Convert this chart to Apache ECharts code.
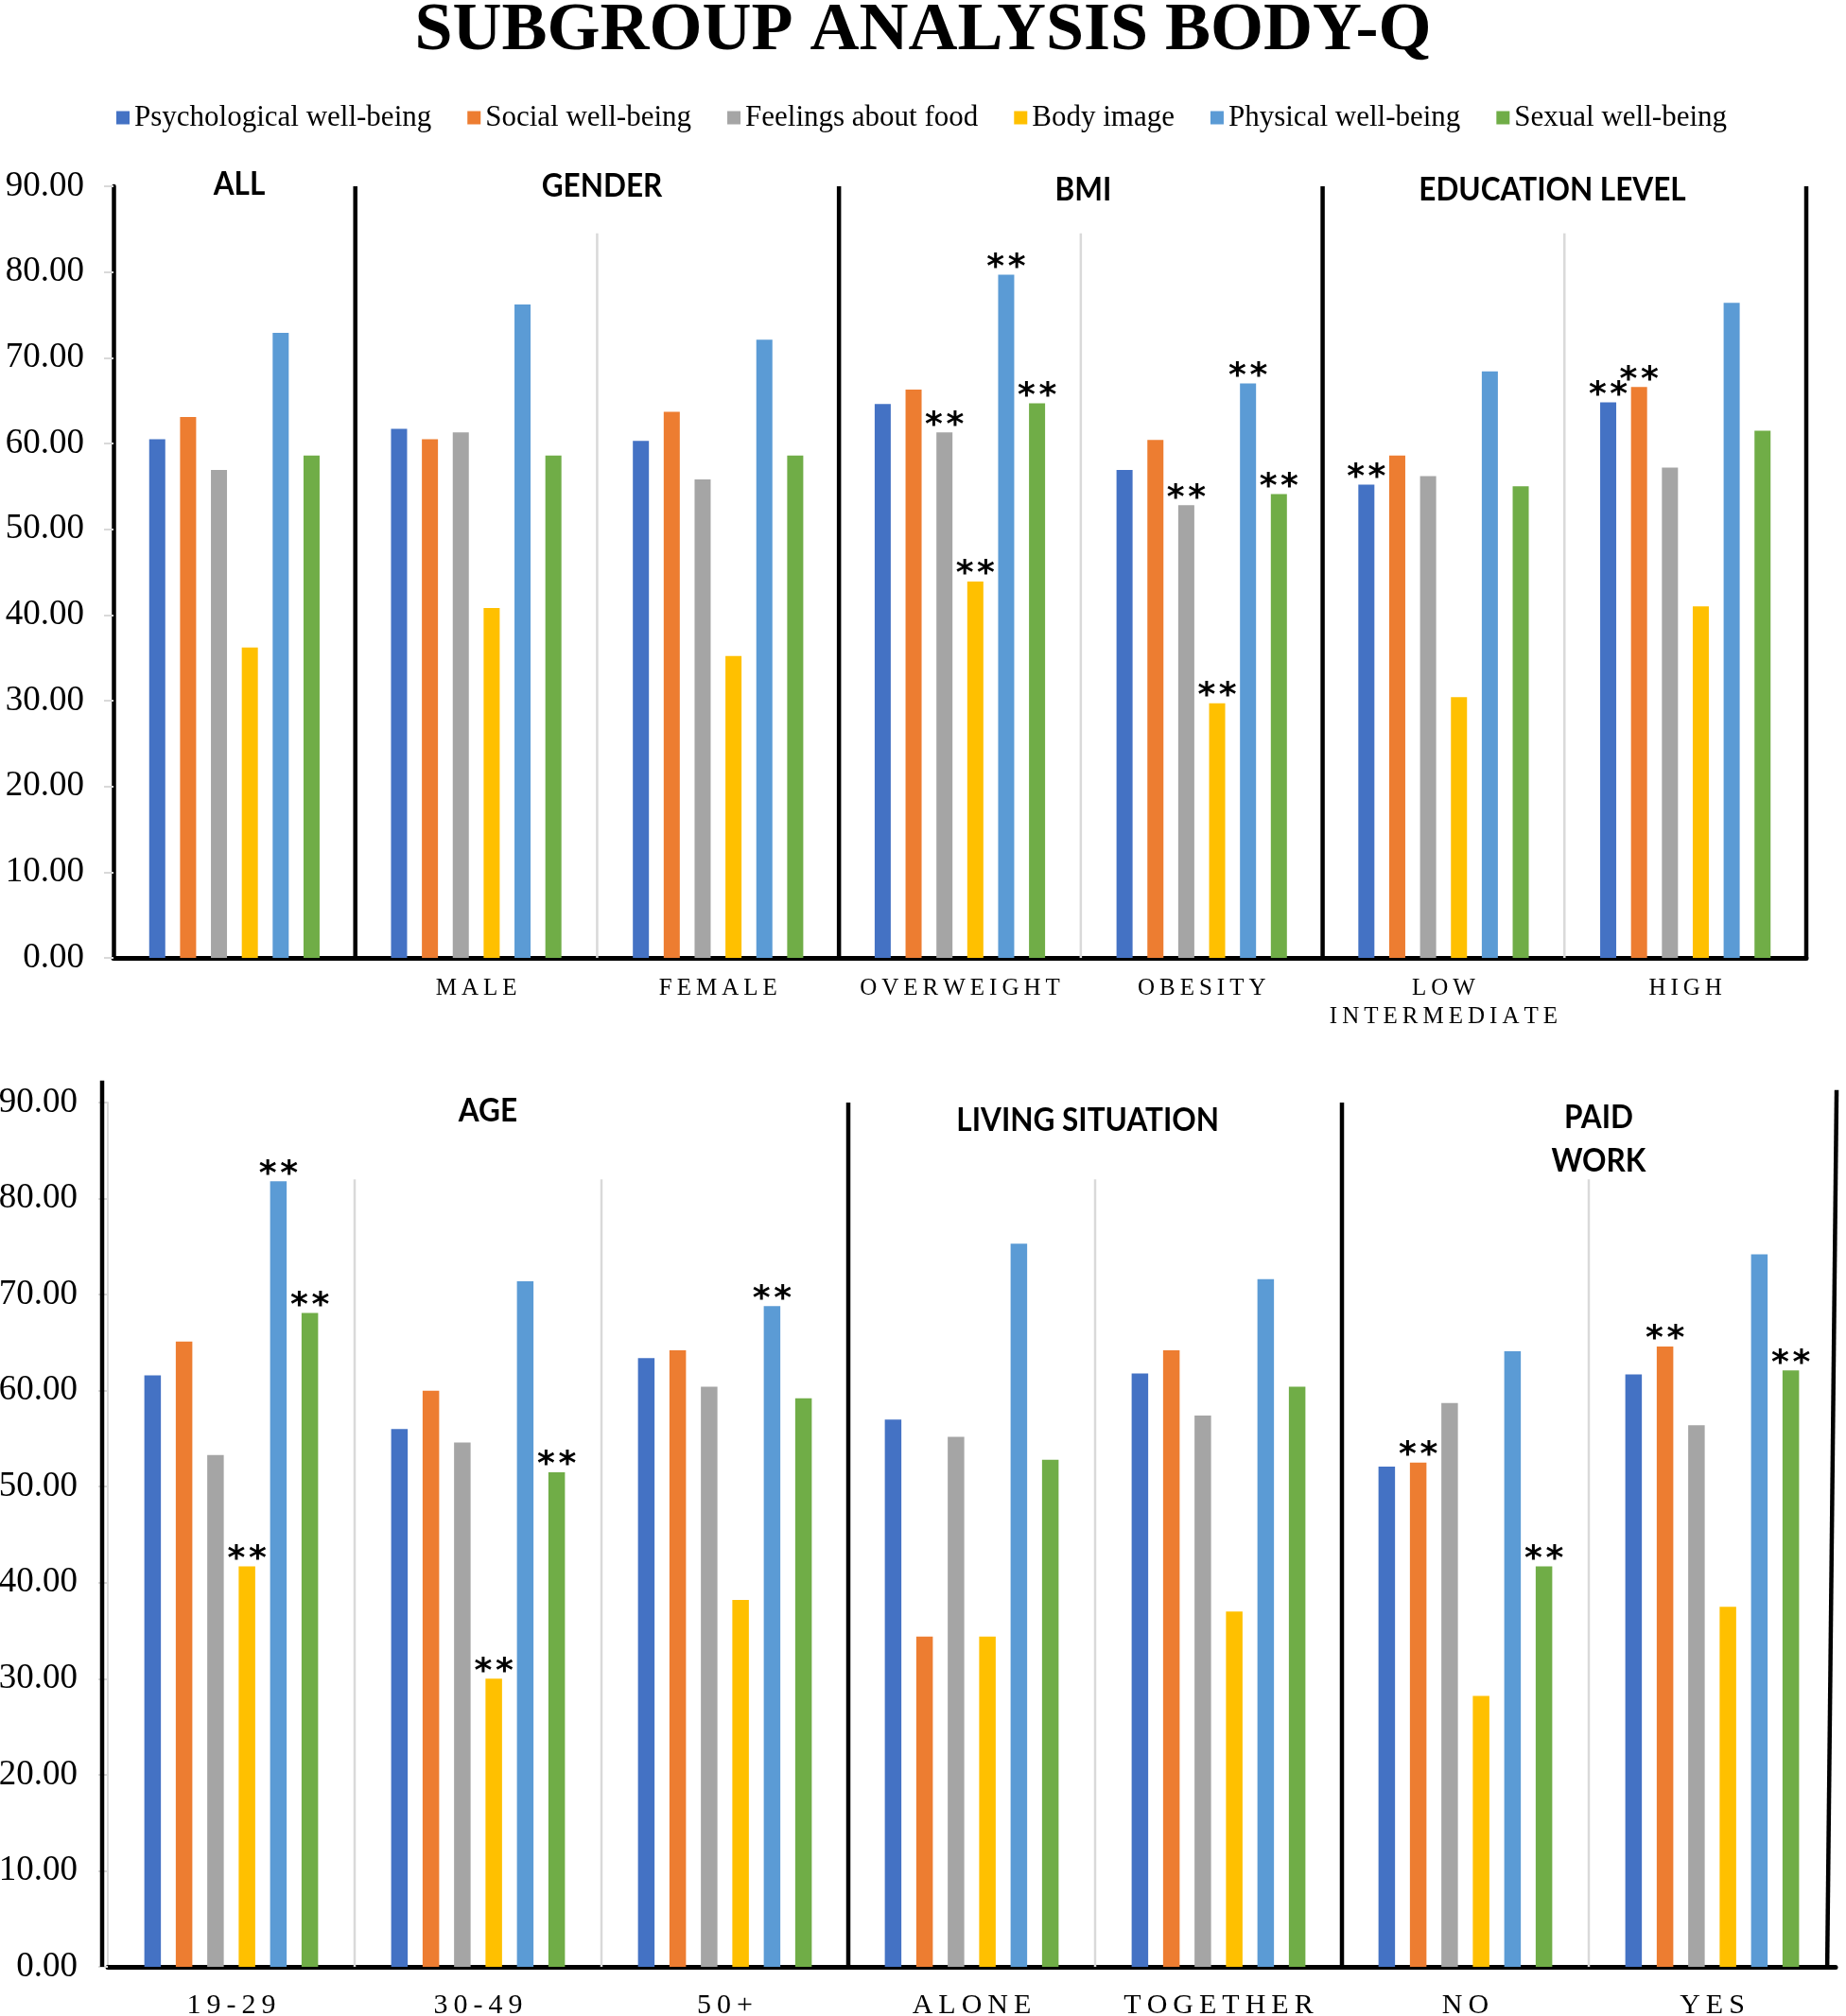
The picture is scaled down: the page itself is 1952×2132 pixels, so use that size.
<!DOCTYPE html>
<html><head><meta charset="utf-8">
<script src="https://cdn.jsdelivr.net/npm/echarts@6/dist/echarts.min.js"></script>
<style>html,body{margin:0;padding:0;background:#fff}#c{width:1952px;height:2132px}</style>
</head><body><div id="c"></div>
<script>
// ---------- DATA ----------
const seriesNames = ['Psychological well-being','Social well-being','Feelings about food','Body image','Physical well-being','Sexual well-being'];
const seriesColors = ['#4472C4','#ED7D31','#A5A5A5','#FFC000','#5B9BD5','#70AD47'];
const yTicks = [0,10,20,30,40,50,60,70,80,90];

// top panel
const topCategories = ['', 'MALE', 'FEMALE', 'OVERWEIGHT', 'OBESITY', 'LOW INTERMEDIATE', 'HIGH'];
const topGroups = ['ALL','GENDER','BMI','EDUCATION LEVEL'];
const topGroupSizes = [1,2,2,2];
const topPsych    = [60.5, 61.7, 60.3, 64.6, 56.9, 55.2, 64.8];
const topSocial   = [63.1, 60.5, 63.7, 66.3, 60.4, 58.6, 66.6];
const topFood     = [56.9, 61.3, 55.8, 61.3, 52.8, 56.2, 57.2];
const topBody     = [36.2, 40.8, 35.2, 43.9, 29.7, 30.4, 41.0];
const topPhysical = [72.9, 76.2, 72.1, 79.7, 67.0, 68.4, 76.4];
const topSexual   = [58.6, 58.6, 58.6, 64.7, 54.1, 55.0, 61.5];
const topSigPsych    = [0,0,0,0,0,1,1];
const topSigSocial   = [0,0,0,0,0,0,1];
const topSigFood     = [0,0,0,1,1,0,0];
const topSigBody     = [0,0,0,1,1,0,0];
const topSigPhysical = [0,0,0,1,1,0,0];
const topSigSexual   = [0,0,0,1,1,0,0];

// bottom panel
const botCategories = ['19-29','30-49','50+','ALONE','TOGETHER','NO','YES'];
const botGroups = ['AGE','LIVING SITUATION','PAID\nWORK'];
const botGroupSizes = [3,2,2];
const botPsych    = [61.6, 56.0, 63.4, 57.0, 61.8, 52.1, 61.7];
const botSocial   = [65.1, 60.0, 64.2, 34.4, 64.2, 52.5, 64.6];
const botFood     = [53.3, 54.6, 60.4, 55.2, 57.4, 58.7, 56.4];
const botBody     = [41.7, 30.0, 38.2, 34.4, 37.0, 28.2, 37.5];
const botPhysical = [81.8, 71.4, 68.8, 75.3, 71.6, 64.1, 74.2];
const botSexual   = [68.1, 51.5, 59.2, 52.8, 60.4, 41.7, 62.1];
const botSigPsych    = [0,0,0,0,0,0,0];
const botSigSocial   = [0,0,0,0,0,1,1];
const botSigFood     = [0,0,0,0,0,0,0];
const botSigBody     = [1,1,0,0,0,0,0];
const botSigPhysical = [1,0,1,0,0,0,0];
const botSigSexual   = [1,1,0,0,0,1,1];

// ---------- BUILD ----------
const SERIF = 'Liberation Serif';
const topVals = [topPsych, topSocial, topFood, topBody, topPhysical, topSexual];
const topSigs = [topSigPsych, topSigSocial, topSigFood, topSigBody, topSigPhysical, topSigSexual];
const botVals = [botPsych, botSocial, botFood, botBody, botPhysical, botSexual];
const botSigs = [botSigPsych, botSigSocial, botSigFood, botSigBody, botSigPhysical, botSigSexual];

function spaced(s){
  return s.split(' ').map(w => w.split('').join('\u2009')).join('\n');
}

function barSeries(vals, sigs, xi, yi, bw, gap){
  return vals.map((arr, k) => ({
    type:'bar', name: seriesNames[k], xAxisIndex: xi, yAxisIndex: yi,
    barWidth: bw, barGap: gap,
    itemStyle:{color: seriesColors[k]},
    label:{show:false, position:'top', distance:-11, formatter:'*\u200A*',
      fontFamily:'DejaVu Sans', fontWeight:'bold', fontSize:36, color:'#000'},
    data: arr.map((v,i) => sigs[k][i] ? {value:v, label:{show:true}} : v)
  }));
}

// separator lines [x0, y0, y1, black?, x1]
function separators(sizes, blackTop, grayTop){
  const out = []; let c = 0;
  sizes.forEach(s => {
    for (let k=1;k<s;k++) out.push([c+k, 0, grayTop, 0, c+k]);
    c += s;
    out.push([c, 0, blackTop, 1, c]);
  });
  return out;
}
function sepSeries(data, xi, yi){
  return {
    type:'custom', xAxisIndex: xi, yAxisIndex: yi, clip:false, silent:true, z:5,
    encode:{x:[0,4], y:[1,2]}, data,
    renderItem:(p, api) => {
      const a = api.coord([api.value(0), api.value(1)]);
      const b = api.coord([api.value(4), api.value(2)]);
      const black = api.value(3) === 1;
      return {type:'line', shape:{x1:a[0],y1:a[1],x2:b[0],y2:b[1]},
        style:{stroke: black ? '#000' : '#D9D9D9', lineWidth: black ? 4.5 : 2.5}};
    }
  };
}
function groupCenters(sizes){
  const out=[]; let c=0;
  sizes.forEach(s => { out.push(c + s/2); c += s; });
  return out;
}
// layout nudges for group headings (category units / value units)
function titleSeries(names, sizes, dx, ys, xi, yi){
  const cs = groupCenters(sizes);
  return {
    type:'custom', xAxisIndex: xi, yAxisIndex: yi, clip:false, silent:true, z:6,
    encode:{x:0, y:1},
    data: cs.map((c,i) => [c + dx[i], ys[i]]),
    renderItem:(p, api) => {
      const pt = api.coord([api.value(0), api.value(1)]);
      return {type:'text', x:pt[0], y:pt[1], scaleX:0.9,
        style:{text: names[p.dataIndex], font:'bold 35px Lato', fill:'#000',
          align:'center', verticalAlign:'middle', lineHeight:46}};
    }
  };
}

const topSeps = separators(topGroupSizes, 90, 84.5);
const botSeps = separators(botGroupSizes, 90, 82);
// last bottom border is slightly slanted
const lastB = botSeps[botSeps.length-1];
lastB[0] = 6.966; lastB[2] = 91.3; lastB[4] = 7.004;
// black left border drawn just left of the bottom plot
botSeps.push([-0.023, 0, 92.3, 1, -0.023]);

const yAxisBase = (margin, fs) => ({
  type:'value', min:0, max:90, interval:10,
  axisLabel:{formatter: v => v.toFixed(2), fontFamily: SERIF, fontSize: fs, color:'#000', margin},
  splitLine:{show:false},
  axisTick:{show:true, length:10, lineStyle:{color:'#D9D9D9', width:2}},
});

const option = {
  animation:false,
  backgroundColor:'#fff',
  title:{text:'SUBGROUP ANALYSIS BODY-Q', left:'center', top:0,
    textStyle:{fontFamily: SERIF, fontWeight:'bold', fontSize:72, color:'#000', lineHeight:57}},
  legend:{data: seriesNames, left:118, top:104, icon:'rect', itemWidth:14, itemHeight:14, itemGap:38,
    textStyle:{fontFamily: SERIF, fontSize:31, color:'#000'}},
  grid:[
    {left:120, right:42, top:197, height:816, outerBoundsMode:'none', containLabel:false},
    {left:114, right:11, top:1166, height:914, outerBoundsMode:'none', containLabel:false}
  ],
  xAxis:[
    {type:'category', gridIndex:0, data: topCategories,
      axisLine:{lineStyle:{color:'#000', width:5}}, axisTick:{show:false},
      axisLabel:{interval:0, formatter: spaced, fontFamily: SERIF, fontSize:25, lineHeight:30, color:'#000', margin:17}},
    {type:'category', gridIndex:1, data: botCategories,
      axisLine:{lineStyle:{color:'#000', width:5}}, axisTick:{show:false},
      axisLabel:{interval:0, formatter: spaced, fontFamily: SERIF, fontSize:30, lineHeight:30, color:'#000', margin:26}},
    {type:'value', gridIndex:0, min:0, max:7, show:false},
    {type:'value', gridIndex:1, min:0, max:7, show:false}
  ],
  yAxis:[
    Object.assign(yAxisBase(31, 37), {gridIndex:0, axisLine:{show:true, lineStyle:{color:'#000', width:4.5}}}),
    Object.assign(yAxisBase(32, 37), {gridIndex:1, axisLine:{show:true, lineStyle:{color:'#D9D9D9', width:2}}})
  ],
  series:[
    ...barSeries(topVals, topSigs, 0, 0, 17, '92%'),
    ...barSeries(botVals, botSigs, 1, 1, 17.5, '90%'),
    sepSeries(topSeps, 2, 0),
    sepSeries(botSeps, 3, 1),
    titleSeries(topGroups, topGroupSizes, [0.02, 0.02, 0.01, -0.05], [90.2, 90.0, 89.6, 89.6], 2, 0),
    titleSeries(botGroups, botGroupSizes, [0.04, -0.03, 0.04], [89.1, 88.2, 86.2], 3, 1)
  ]
};
const chart = echarts.init(document.getElementById('c'), null, {renderer:'canvas'});
chart.setOption(option);
</script>
</body></html>
